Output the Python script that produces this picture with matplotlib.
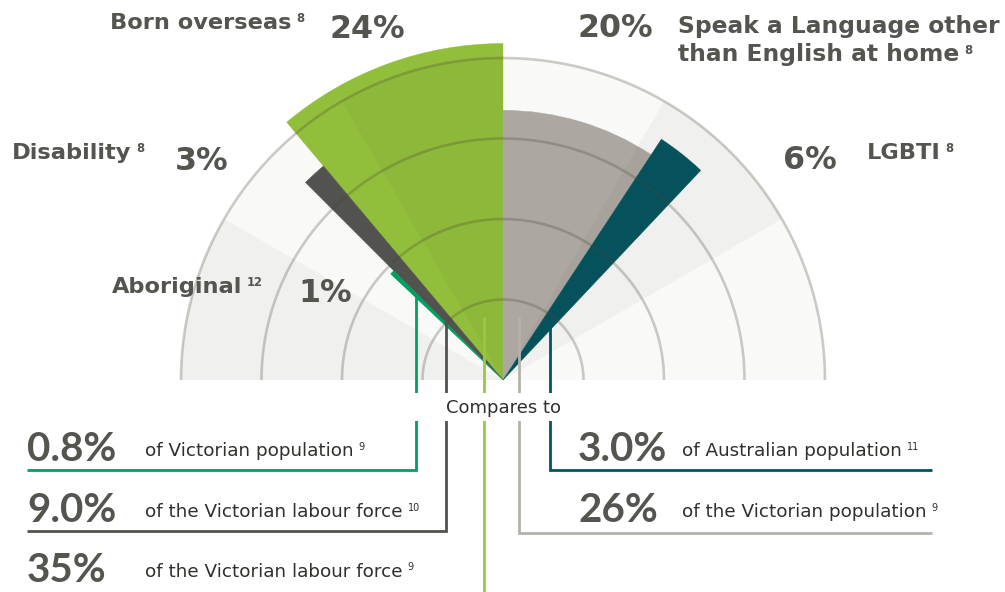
import numpy as np
import matplotlib
matplotlib.use("Agg")
import matplotlib.pyplot as plt
from matplotlib.patches import Wedge, Rectangle

# ---------------- data ----------------
categories = ["Aboriginal", "Disability", "Born overseas",
              "Speak a Language other than English at home", "LGBTI"]
shares = [1, 3, 24, 20, 6]                      # % of VPS workforce
share_labels = ["1%", "3%", "24%", "20%", "6%"]
label_sources = ["12", "8", "8", "8", "8"]
bar_reach = [1.92, 3.47, 4.18, 3.35, 3.58]      # radial length in ring units
sides = ["left", "left", "left", "right", "right"]

compare_values = ["0.8%", "9.0%", "35%", "26%", "3.0%"]
compare_texts = ["of Victorian population", "of the Victorian labour force",
                 "of the Victorian labour force", "of the Victorian population",
                 "of Australian population"]
compare_sources = ["9", "10", "9", "9", "11"]

ring_levels = [1, 2, 3, 4]
band_starts = [0, 30, 60, 90, 120, 150]          # background bands (degrees)
band_dark = [False, True, False, True, False, True]

# ---------------- style / layout ----------------
TEXT = "#53554f"
bar_colors = ["#00a160", "#52534e", "#92bf3b", "#aca8a1", "#03545f"]
line_colors = ["#00a160", "#52534e", "#97c940", "#b5b2ab", "#03545f"]
CX, CY = 503, 380          # fan centre (pixels)
UNIT = 80.5                # ring spacing (pixels)
DEG_PER_PCT = 5.0 / 3.0

fig = plt.figure(figsize=(10.05, 5.92), dpi=100)
ax = fig.add_axes([0, 0, 1, 1])
ax.set_xlim(0, 1005)
ax.set_ylim(592, 0)
ax.axis("off")

def wedge(r, a1, a2, **kw):
    # visual angles a1<a2 (deg, counter-clockwise from +x); y axis inverted
    return Wedge((CX, CY), r, -a2, -a1, **kw)

# background semicircle
outer = max(ring_levels) * UNIT
ax.add_patch(wedge(outer, 0, 180, facecolor="#f9f9f8", edgecolor="none", zorder=1))

# bars: left side stacks counter-clockwise from 90 deg, right side clockwise
left_angle = 90.0
right_angle = 90.0
order = [2, 1, 0, 3, 4]
for i in order:
    span = shares[i] * DEG_PER_PCT
    if sides[i] == "left":
        a1, a2 = left_angle, left_angle + span
        left_angle = a2
    else:
        a1, a2 = right_angle - span, right_angle
        right_angle = a1
    ax.add_patch(wedge(bar_reach[i] * UNIT, a1, a2, facecolor=bar_colors[i],
                       edgecolor=bar_colors[i], linewidth=0.3, zorder=2))

# darker bands laid over everything inside outer ring
for s, dark in zip(band_starts, band_dark):
    if dark:
        ax.add_patch(wedge(outer, s, s + 30, facecolor="#3c3222", alpha=0.042,
                           edgecolor="none", zorder=3))

# rings
t = np.linspace(0, np.pi, 400)
for lv in ring_levels:
    r = lv * UNIT
    ax.plot(CX + r * np.cos(t), CY - r * np.sin(t), color="#4d4536", alpha=0.27,
            lw=1.9, solid_capstyle="butt", zorder=4)

# leader lines (x position, top y, bottom y, end x of horizontal)
leaders = {
    0: (416, 296, 470, 27),
    1: (446, 318, 531, 27),
    2: (484, 317, 592, None),
    3: (519, 317, 533, 932),
    4: (550, 317, 470, 932),
}
for i, (x, y0, y1, xe) in leaders.items():
    xs = [x, x]
    ys = [y0, y1]
    if xe is not None:
        xs.append(xe)
        ys.append(y1)
    ax.plot(xs, ys, color=line_colors[i], lw=2.0, solid_joinstyle="miter",
            solid_capstyle="butt", zorder=5)

# "Compares to" box
ax.add_patch(Rectangle((406, 393), 164, 28, facecolor="white", edgecolor="none", zorder=6))
ax.text(504, 413.3, "Compares to", ha="center", va="baseline", fontsize=13.0,
        family="DejaVu Sans", color="#2f302c", zorder=7)

# ---------------- texts ----------------
LAB = dict(family="DejaVu Sans", fontweight="bold", color=TEXT, fontsize=16.2, zorder=7)
NUM = dict(family="DejaVu Sans", fontweight="bold", color=TEXT, fontsize=22.8, zorder=7)
BIG = dict(family="Lato", fontweight="bold", color=TEXT, fontsize=29.0, zorder=7)
DESC = dict(family="DejaVu Sans", color="#2f302c", fontsize=13.2, zorder=7)

sup_jobs = []

def label(x, y, s, sup=None, props=LAB, sup_size=8.3, sup_weight="bold", rise=7.8, gap=5):
    t = ax.text(x, y, s, ha="left", va="baseline", **props)
    if sup is not None:
        sup_jobs.append((t, sup, sup_size, sup_weight, rise, gap, props["color"]))
    return t

# top labels
label(110, 29.3, categories[2], label_sources[2])
label(330, 38.3, share_labels[2], props=NUM)
label(577, 37.0, share_labels[3], props=NUM)
label(678, 33.0, "Speak a Language other", props=dict(LAB, fontsize=16.8))
label(678, 61.3, "than English at home", label_sources[3], props=dict(LAB, fontsize=16.8))
label(11.7, 159.3, categories[1], label_sources[1])
label(175, 170.0, share_labels[1], props=NUM)
label(866.7, 159.3, categories[4], label_sources[4])
label(782.7, 169.3, share_labels[4], props=NUM)
label(111.7, 293.3, categories[0], label_sources[0])
label(298, 301.7, share_labels[0], props=NUM)

# bottom comparisons
cmp_pos = {0: (27, 460.7, 145, 456.0), 1: (27, 521.7, 145, 517.3),
           2: (27, 581.7, 145, 576.7), 3: (578, 521.7, 681.7, 517.3),
           4: (578, 460.7, 681.7, 456.0)}
for i, (nx, ny, tx, ty) in cmp_pos.items():
    label(nx, ny, compare_values[i], props=BIG)
    label(tx, ty, compare_texts[i], compare_sources[i], props=DESC,
          sup_size=7.0, sup_weight="normal", rise=6.5, gap=5)

fig.canvas.draw()
renderer = fig.canvas.get_renderer()
inv = ax.transData.inverted()
for t, s, size, weight, rise, gap, col in sup_jobs:
    bb = t.get_window_extent(renderer)
    xr, _ = inv.transform((bb.x1, bb.y1))
    x0, y0 = t.get_position()
    ax.text(xr + gap, y0 - rise, s, ha="left", va="baseline", fontsize=size,
            fontweight=weight, family="DejaVu Sans", color=col, zorder=7)

fig.savefig("out.png", dpi=100, facecolor="white")
